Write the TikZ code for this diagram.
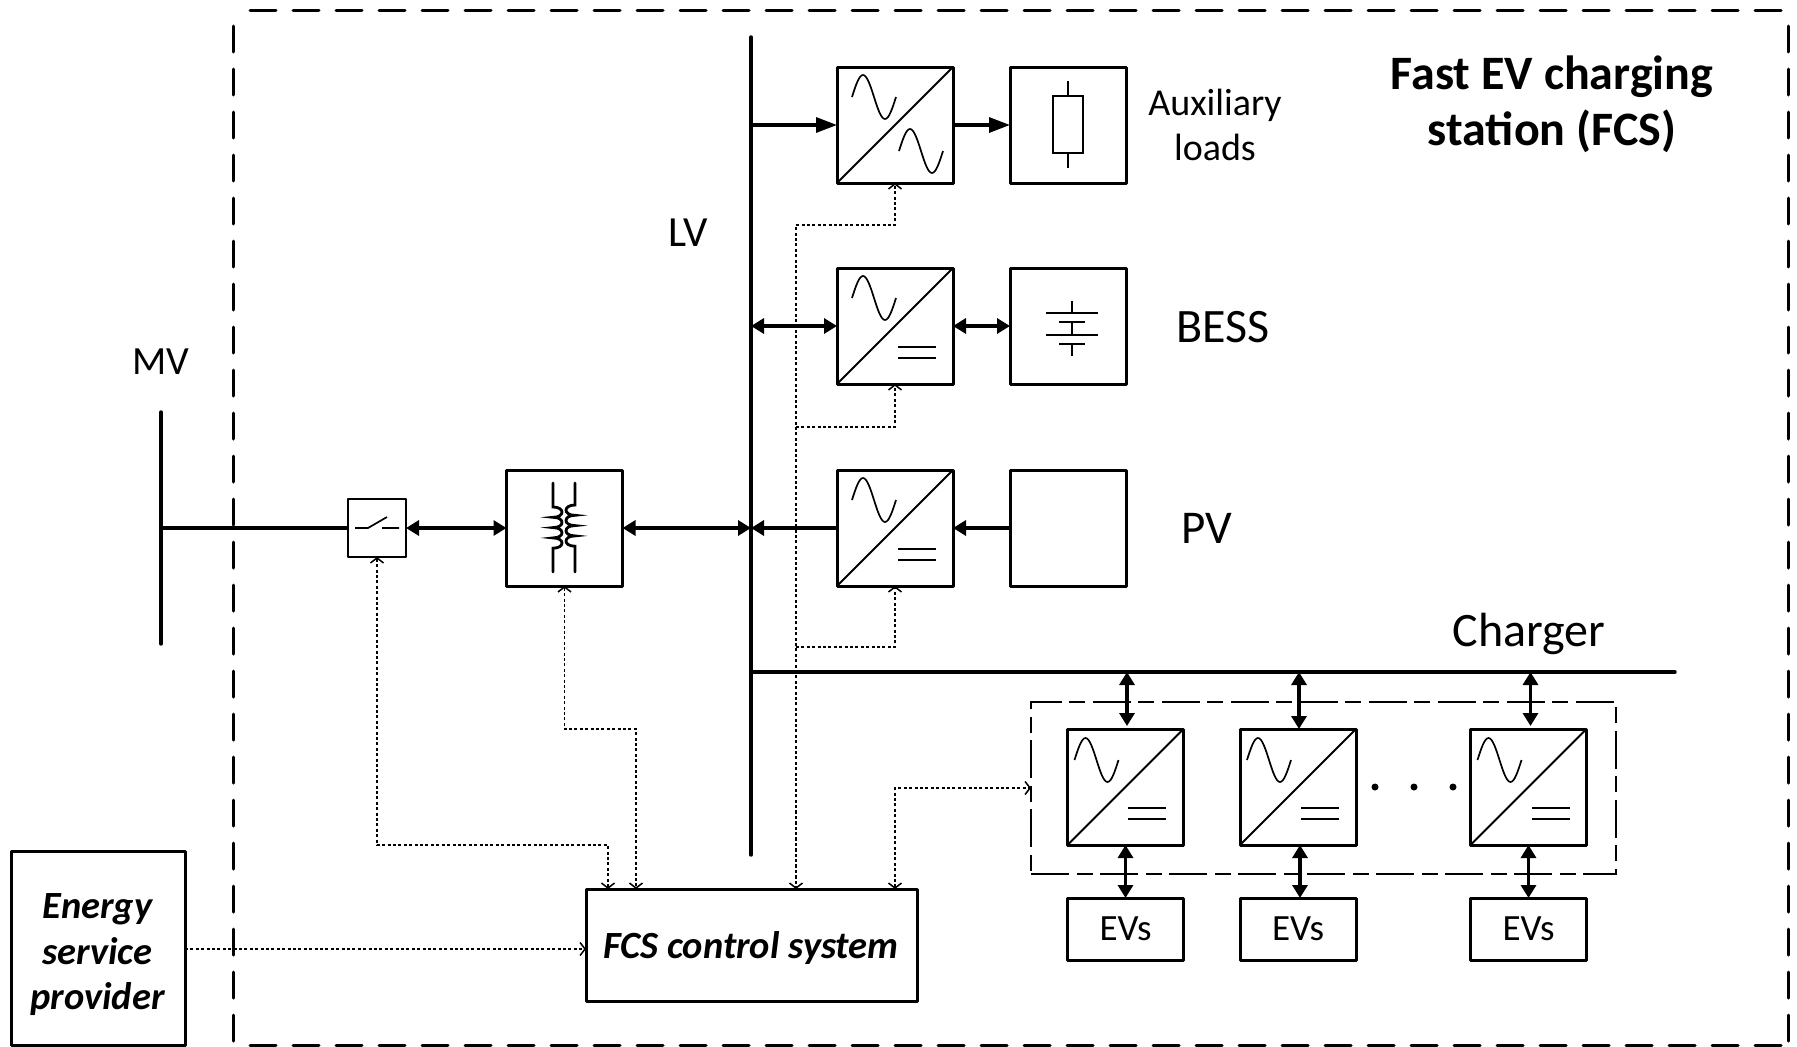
\documentclass[tikz,border=0pt]{standalone}
\usepackage{fontspec}
\setmainfont{Carlito}
\usetikzlibrary{arrows.meta,calc}
\tikzset{
 x=1pt,y=-1pt,
 block/.style={draw,line width=3pt,line join=round,rectangle,inner sep=0pt,outer sep=0pt,minimum width=#1},
 conv/.style={block=116pt,minimum height=116pt},
 evbox/.style={block=116pt,minimum height=62pt,font=\fontsize{37}{42}\selectfont},
 bus/.style={line width=3.4pt,line cap=round},
 frame/.style={line width=3pt,line cap=round,dash pattern=on 26pt off 17pt},
 power/.style={line width=3.2pt,{Triangle[length=13pt,width=15pt]}-{Triangle[length=13pt,width=15pt]}},
 powerone/.style={line width=3.2pt,-{Triangle[length=#1,width=15pt]}},
 ctrl/.style={line width=1.5pt,dash pattern=on 3pt off 2.4pt,-{Straight Barb[length=5pt,width=13pt,line width=1.5pt]}},
 ctrltwo/.style={line width=1.5pt,dash pattern=on 3pt off 2.4pt,{Straight Barb[length=5pt,width=13pt,line width=1.5pt]}-{Straight Barb[length=5pt,width=13pt,line width=1.5pt]}},
 sym/.style={line width=1.7pt},
 lbl/.style={inner sep=0pt,font=\fontsize{#1}{#1}\selectfont,align=center},
}
\newcommand{\sinewave}[2]{\draw[sym] (#1,#2) sin +(11,-22) cos +(11,22) sin +(11,22) cos +(11,-22);}
\newcommand{\dcsym}[2]{\draw[sym] (#1,#2) -- +(38,0) (#1,#2+11) -- +(38,0);}
\newcommand{\coil}[3]{% x, start y, signed bulge
  \draw[line width=2.8pt,line cap=round] (#1,483) -- (#1,#2)
  .. controls (#1+#3,#2) and (#1+#3,#2+10.3) .. (#1,#2+10.3)
  .. controls (#1+#3,#2+10.3) and (#1+#3,#2+20.6) .. (#1,#2+20.6)
  .. controls (#1+#3,#2+20.6) and (#1+#3,#2+30.9) .. (#1,#2+30.9)
  .. controls (#1+#3,#2+30.9) and (#1+#3,#2+41.2) .. (#1,#2+41.2) -- (#1,572);}
\begin{document}
\begin{tikzpicture}
\useasboundingbox (0,0) rectangle (1797,1047);
% outer frame
\draw[frame] (250,10) -- (1797,10);
\draw[frame] (233,26) -- (233,1047);
\draw[frame] (1788,26) -- (1788,1047);
\draw[frame] (250,1045) -- (1797,1045);
% buses
\coordinate (lvt) at (751,37); \coordinate (lvb) at (751,855);
\coordinate (mvt) at (161,412); \coordinate (mvb) at (161,644);
\coordinate (cht) at (751,672); \coordinate (che) at (1675,672);
\draw[bus] (lvt) -- (lvb);
\draw[bus] (mvt) -- (mvb);
\draw[bus] (cht) -- (che);
% blocks
\node[conv] (c1) at (895,125) {};
\node[conv] (c2) at (895,326) {};
\node[conv] (c3) at (895,528) {};
\node[conv] (l1) at (1068,125) {};
\node[conv] (l2) at (1068,326) {};
\node[conv] (l3) at (1068,528) {};
\node[block=58pt,minimum height=58pt,line width=2pt] (sw) at (377,528) {};
\node[conv] (tr) at (564.5,528) {};
\node[block=331pt,minimum height=112pt] (fcs) at (751.5,945) {};
\node[inner sep=0pt,font=\fontsize{38.5}{42}\selectfont\bfseries\itshape] (fcst) at (751,948) {FCS control system};
\node[block=174pt,minimum height=194pt] (esp) at (98,948) {};
\node[inner sep=0pt,font=\fontsize{38.5}{45.5}\selectfont\bfseries\itshape,align=center] (espt) at (97.5,955) {Energy\\service\\provider};
% charger group
\node[draw,line width=1.5pt,dash pattern=on 38pt off 8pt on 16pt off 7pt,minimum width=585pt,minimum height=172pt,inner sep=0pt,outer sep=0pt] (grp) at (1323.5,788) {};
\node[conv] (d1) at (1125.5,787) {};
\node[conv] (d2) at (1298,787) {};
\node[conv] (d3) at (1528.5,787) {};
\node[evbox] (e1) at (1125.5,929) {EVs};
\node[evbox] (e2) at (1298,929) {EVs};
\node[evbox] (e3) at (1528.5,929) {EVs};
% converter symbols
\foreach \n/\x/\y in {c1/837/67,c2/837/268,c3/837/470}{
  \draw[line width=2pt] (\x,\y+116) -- (\x+116,\y);
  \sinewave{\x+15}{\y+30}
}
\foreach \n/\x/\y in {d1/1067.5/729,d2/1240/729,d3/1470.5/729}{
  \draw[line width=2pt] (\x,\y+116) -- (\x+116,\y);
  \sinewave{\x+7}{\y+31}
}
\sinewave{899}{151}
\dcsym{898}{347}
\dcsym{898}{549}
\dcsym{1128}{808}
\dcsym{1301}{808}
\dcsym{1532}{808}
% resistor
\draw[line width=1.5pt] (1053,96) rectangle (1083,153);
\draw[line width=1.5pt] (1068,81) -- (1068,96) (1068,153) -- (1068,168);
% battery
\draw[line width=1.7pt] (1072,301) -- (1072,313) (1046,313) -- (1098,313) (1059,322) -- (1085,322)
  (1072,322) -- (1072,335) (1046,335) -- (1098,335) (1059,344) -- (1085,344) (1072,344) -- (1072,356);
% switch symbol
\draw[line width=1.7pt] (355,528) -- (368,528) -- (387,517) (382,528) -- (399,528);
% transformer symbol
\coil{553}{507}{12}
\coil{575}{505}{-12}
% power connectors
\draw[line width=3.2pt] (mvt |- sw.west) -- (sw.west);
\draw[power] (sw.east) -- (tr.west);
\draw[power] (tr.east) -- (lvt |- tr.east);
\draw[powerone=21pt] (lvt |- c1.west) -- (c1.west);
\draw[powerone=21pt] (c1.east) -- (l1.west);
\draw[power] (lvt |- c2.west) -- (c2.west);
\draw[power] (c2.east) -- (l2.west);
\draw[powerone=13pt] (c3.west) -- (lvt |- c3.west);
\draw[powerone=13pt] (l3.west) -- (c3.east);
\draw[power] ([xshift=1.5pt]cht -| d1.north) -- ([xshift=1.5pt,yshift=3pt]d1.north);
\draw[power] ([xshift=1pt]cht -| d2.north) -- ([xshift=1pt]d2.north);
\draw[power] ([xshift=2pt]cht -| d3.north) -- ([xshift=2pt,yshift=3pt]d3.north);
\draw[power] (d1.south) -- (e1.north);
\draw[power] ([xshift=2pt]d2.south) -- ([xshift=2pt]e2.north);
\draw[power] (d3.south) -- (e3.north);
% control connectors
\coordinate (tsw) at (608,889); \coordinate (ttr) at (636,889);
\coordinate (tv) at (796,889); \coordinate (tg) at (895,889);
\coordinate (tesp) at (586,949); \coordinate (fesp) at (185,949);
\draw[ctrltwo] (sw.south) |- (608,845) -- (tsw);
\draw[ctrltwo] (tr.south) |- (636,729) -- (ttr);
\draw[ctrl] (tv) -- (796,225) -| (c1.south);
\draw[ctrl] (796,427) -| (c2.south);
\draw[ctrl] (796,647) -| (c3.south);
\draw[ctrl] (796,800) -- (tv);
\draw[ctrltwo] (tg) |- (grp.west);
\draw[ctrl] (fesp) -- (tesp);
% dots
\foreach \x/\n in {1375/a,1414/b,1453/c} \fill (\x,787) circle (3.5pt);
% labels
\node[inner sep=0pt,font=\fontsize{48}{56}\selectfont\bfseries,align=center] (t0) at (1552,104) {Fast EV charging\\station (FCS)};
\node[inner sep=0pt,font=\fontsize{38}{45}\selectfont,align=center] (t1) at (1215,125) {Auxiliary\\loads};
\node[lbl=48] (t2) at (1223,327) {BESS};
\node[lbl=47] (t3) at (1207,528) {PV};
\node[lbl=43] (t4) at (688,233) {LV};
\node[lbl=40] (t5) at (161,362) {MV};
\node[lbl=48] (t6) at (1529,634) {Charger};
\end{tikzpicture}
\end{document}
